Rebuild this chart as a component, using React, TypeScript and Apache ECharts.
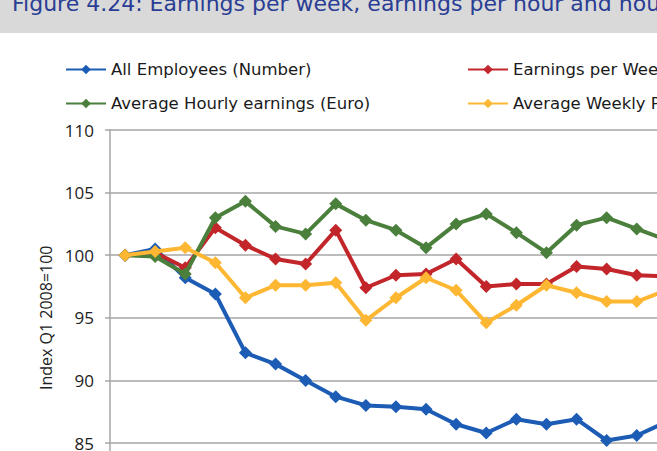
import React, { useEffect, useRef } from "react";
import * as echarts from "echarts";

// Quarterly index values, Q1 2008 = 100
const quarters = [
  "Q1 2008", "Q2 2008", "Q3 2008", "Q4 2008",
  "Q1 2009", "Q2 2009", "Q3 2009", "Q4 2009",
  "Q1 2010", "Q2 2010", "Q3 2010", "Q4 2010",
  "Q1 2011", "Q2 2011", "Q3 2011", "Q4 2011",
  "Q1 2012", "Q2 2012", "Q3 2012",
];

const allEmployees = [100, 100.5, 98.2, 96.9, 92.2, 91.3, 90.0, 88.7, 88.0, 87.9, 87.7, 86.5, 85.8, 86.9, 86.5, 86.9, 85.2, 85.6, 86.7];
const earningsPerWeek = [100, 100.2, 99.0, 102.2, 100.8, 99.7, 99.3, 102.0, 97.4, 98.4, 98.5, 99.7, 97.5, 97.7, 97.7, 99.1, 98.9, 98.4, 98.3];
const hourlyEarnings = [100, 99.9, 98.5, 103.0, 104.3, 102.3, 101.7, 104.1, 102.8, 102.0, 100.6, 102.5, 103.3, 101.8, 100.2, 102.4, 103.0, 102.1, 101.2];
const weeklyPaidHours = [100, 100.3, 100.6, 99.4, 96.6, 97.6, 97.6, 97.8, 94.8, 96.6, 98.2, 97.2, 94.6, 96.0, 97.6, 97.0, 96.3, 96.3, 97.2];

const seriesNames = [
  "All Employees (Number)",
  "Earnings per Week (Euro)",
  "Average Hourly earnings (Euro)",
  "Average Weekly Paid Hours (Number)",
];
const seriesColors = ["#1c5cb5", "#c3262a", "#4b7f3c", "#fdb733"];
const seriesData = [allEmployees, earningsPerWeek, hourlyEarnings, weeklyPaidHours];

const titleText = "Figure 4.24: Earnings per week, earnings per hour and hours worked";

export default function App() {
  const ref = useRef<HTMLDivElement>(null);

  useEffect(() => {
    if (!ref.current) return;
    const chart = echarts.init(ref.current, undefined, { renderer: "svg" });
    const step = 30.1;
    const legendPos = [
      { left: 65, top: 61 },
      { left: 467, top: 61 },
      { left: 65, top: 95 },
      { left: 467, top: 95 },
    ];
    chart.setOption({
      animation: false,
      backgroundColor: "#ffffff",
      graphic: [
        {
          type: "rect",
          shape: { x: 0, y: 0, width: 800, height: 33 },
          style: { fill: "#d9d9d9" },
          silent: true,
        },
        {
          type: "text",
          x: 12,
          y: 3,
          style: {
            text: titleText,
            fill: "#2a3d94",
            font: "22px 'DejaVu Sans'",
            verticalAlign: "middle",
          },
          silent: true,
        },
      ],
      legend: seriesNames.map((name, i) => ({
        data: [name],
        left: legendPos[i].left,
        top: legendPos[i].top,
        itemWidth: 40,
        itemHeight: 12,
        padding: 0,
        textStyle: {
          fontFamily: "DejaVu Sans",
          fontSize: 16.5,
          color: "#1a1a1a",
        },
      })),
      grid: {
        left: 110,
        top: 130,
        width: step * quarters.length,
        height: 375.6,
        containLabel: false,
      },
      xAxis: {
        type: "category",
        data: quarters,
        boundaryGap: true,
        axisLine: { lineStyle: { color: "#a6a6a6", width: 1.5 } },
        axisTick: { show: true, lineStyle: { color: "#a6a6a6" } },
        axisLabel: { show: false },
      },
      yAxis: {
        type: "value",
        min: 80,
        max: 110,
        interval: 5,
        name: "Index Q1 2008=100",
        nameLocation: "middle",
        nameGap: 54,
        nameTextStyle: { fontFamily: "Open Sans", fontSize: 16, color: "#222" },
        axisLine: { show: true, lineStyle: { color: "#a6a6a6", width: 1.5 } },
        axisTick: { show: true, length: 5, lineStyle: { color: "#a6a6a6", width: 1.5 } },
        axisLabel: { fontFamily: "Open Sans", fontSize: 17, color: "#222", margin: 16 },
        splitLine: { lineStyle: { color: "#a6a6a6", width: 1.5 } },
      },
      series: seriesNames.map((name, i) => ({
        name,
        type: "line",
        data: seriesData[i],
        symbol: "diamond",
        symbolSize: 13,
        showSymbol: true,
        color: seriesColors[i],
        lineStyle: { width: 4, color: seriesColors[i] },
        itemStyle: { color: seriesColors[i] },
        z: 2 + i,
      })),
    });
    return () => chart.dispose();
  }, []);

  return (
    <div
      style={{
        position: "fixed",
        left: 0,
        top: 0,
        width: 657,
        height: 451,
        overflow: "hidden",
        background: "#ffffff",
      }}
    >
      <div ref={ref} style={{ width: 800, height: 600 }} />
    </div>
  );
}
